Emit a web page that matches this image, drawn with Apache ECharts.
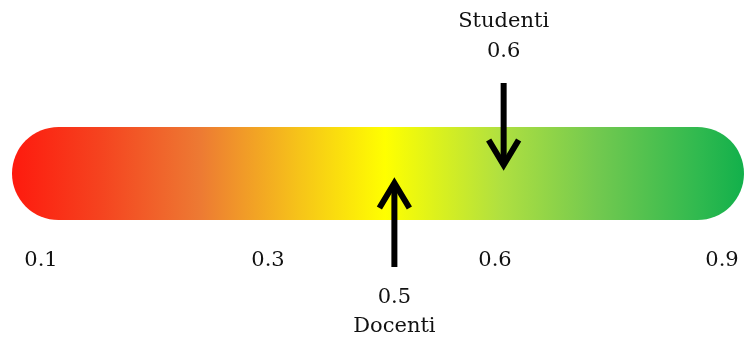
<!DOCTYPE html>
<html>
<head>
<meta charset="utf-8">
<script src="https://cdn.jsdelivr.net/npm/echarts@6/dist/echarts.min.js"></script>
<style>
html,body{margin:0;padding:0;background:#fff;}
#chart{width:744px;height:338px;}
</style>
</head>
<body>
<div id="chart"></div>
<script>
const ticks = ['0.1', '0.3', '0.6', '0.9'];
const markerNames = ['Docenti', 'Studenti'];
const markerValues = [0.5, 0.6];
const markerSides = ['below', 'above'];

const FONT = '"DejaVu Serif", serif';
const FS = 21;
const TXT = '#111';

const chart = echarts.init(document.getElementById('chart'), null, {renderer: 'canvas'});

const gradient = new echarts.graphic.LinearGradient(0, 0, 1, 0, [
  {offset: 0.00, color: '#fe1a0e'},
  {offset: 0.12, color: '#f5431f'},
  {offset: 0.257, color: '#ed7a33'},
  {offset: 0.393, color: '#f6c419'},
  {offset: 0.51, color: '#ffff00'},
  {offset: 0.667, color: '#b0e040'},
  {offset: 0.80, color: '#72c94f'},
  {offset: 0.94, color: '#2fb94f'},
  {offset: 1.00, color: '#12b04b'}
]);

const markerData = markerValues.map((v, i) => ({value: [v, 0], name: markerNames[i], side: markerSides[i]}));

const option = {
  backgroundColor: '#fff',
  animation: false,
  grid: [
    {left: 12, right: 0, top: 127, height: 93},
    {left: 12, right: 0, top: 127, height: 93},
    {left: 41, right: 22, top: 127, height: 93}
  ],
  xAxis: [
    {gridIndex: 0, type: 'value', min: 0, max: 1, show: false},
    {gridIndex: 1, type: 'value', min: 0.15, max: 0.82, show: false},
    {gridIndex: 2, type: 'category', data: ticks, boundaryGap: false,
      axisLine: {show: false}, axisTick: {show: false}, splitLine: {show: false},
      axisLabel: {show: true, margin: 30, fontSize: FS, fontFamily: FONT, color: TXT, interval: 0}}
  ],
  yAxis: [
    {gridIndex: 0, type: 'category', data: [''], show: false},
    {gridIndex: 1, type: 'category', data: [''], show: false},
    {gridIndex: 2, type: 'value', show: false}
  ],
  series: [
    {
      type: 'bar', xAxisIndex: 0, yAxisIndex: 0, z: 1,
      data: [1], barWidth: 93,
      itemStyle: {color: gradient, borderRadius: 46.5},
      silent: true
    },
    {
      type: 'custom', xAxisIndex: 1, yAxisIndex: 1, z: 10,
      data: markerData,
      clip: false,
      renderItem: function (params, api) {
        const item = markerData[params.dataIndex];
        const pt = api.coord([api.value(0), api.value(1)]);
        const x = pt[0], cy = pt[1];
        const below = item.side === 'below';
        const dir = below ? 1 : -1;
        const tip = below ? cy + 6.5 : cy - 5.5;
        const tail = below ? cy + 93.5 : cy - 90.5;
        const valY = below ? cy + 124.5 : cy - 121.5;
        const nameY = below ? cy + 153.5 : cy - 151.5;
        const lineStyle = {stroke: '#000', lineWidth: 6, fill: null, lineJoin: 'miter', lineCap: 'butt'};
        const textStyle = (t, y) => ({text: t, x: x, y: y, align: 'center', verticalAlign: 'middle',
          fontSize: FS, fontFamily: FONT, fill: TXT});
        return {
          type: 'group',
          children: [
            {type: 'line', z2: 10, shape: {x1: x, y1: tail, x2: x, y2: tip + dir * 3}, style: lineStyle},
            {type: 'polyline', z2: 10, shape: {points: [[x - 15, tip + dir * 28], [x, tip + dir * 3], [x + 15, tip + dir * 28]]}, style: lineStyle},
            {type: 'text', z2: 10, style: textStyle(String(api.value(0)), valY)},
            {type: 'text', z2: 10, style: textStyle(item.name, nameY)}
          ]
        };
      }
    }
  ]
};
chart.setOption(option);
</script>
</body>
</html>
